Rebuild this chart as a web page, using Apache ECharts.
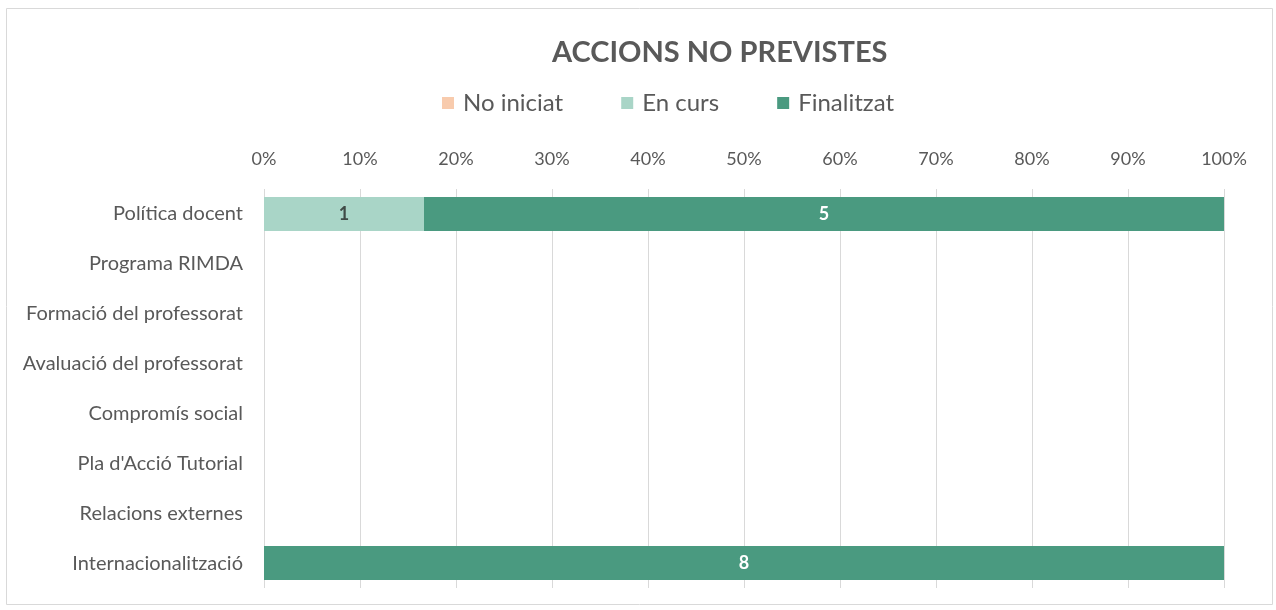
<!DOCTYPE html>
<html>
<head>
<meta charset="utf-8">
<script src="https://cdn.jsdelivr.net/npm/echarts@6/dist/echarts.min.js"></script>
<style>
html,body{margin:0;padding:0;background:#fff;}
#chart{width:1276px;height:610px;}
</style>
</head>
<body>
<div id="chart"></div>
<script>
const categories = ["Política docent","Programa RIMDA","Formació del professorat","Avaluació del professorat","Compromís social","Pla d'Acció Tutorial","Relacions externes","Internacionalització"];
const noIniciat = [0,0,0,0,0,0,0,0];
const enCurs = [1,0,0,0,0,0,0,0];
const finalitzat = [5,0,0,0,0,0,0,8];
const seriesNames = ["No iniciat","En curs","Finalitzat"];
const colors = ["#f8cbad","#a9d5c7","#4a9a80"];
const labelColors = ["#3f4a46","#3f4a46","#ffffff"];

const raw = [noIniciat, enCurs, finalitzat];
const totals = categories.map((c,i)=>raw.reduce((s,a)=>s+a[i],0));

const chart = echarts.init(document.getElementById('chart'));
const FONT = 'Lato';
chart.setOption({
  animation:false,
  textStyle:{fontFamily:FONT},
  graphic:[{type:'rect',shape:{x:6.5,y:8.5,width:1266,height:596},style:{fill:'none',stroke:'#d9d9d9',lineWidth:1},silent:true}],
  title:{text:'ACCIONS NO PREVISTES',left:547,top:33,textStyle:{fontFamily:FONT,fontSize:29,fontWeight:'bold',color:'#595959'}},
  legend:{top:86,left:437,itemWidth:12,itemHeight:12,itemGap:58,icon:'rect',
    textStyle:{fontFamily:FONT,fontSize:24,color:'#595959',padding:[0,0,0,4]},data:seriesNames},
  grid:{left:264,right:52,top:189,bottom:22},
  xAxis:{type:'value',position:'top',min:0,max:100,interval:10,
    axisLabel:{formatter:'{value}%',color:'#595959',fontSize:18,fontFamily:FONT,margin:21},
    axisLine:{show:false},axisTick:{show:false},
    splitLine:{lineStyle:{color:'#d9d9d9',width:1}}},
  yAxis:{type:'category',inverse:true,data:categories,
    axisLabel:{color:'#595959',fontSize:20,fontFamily:FONT,margin:21},
    axisLine:{show:false},axisTick:{show:false}},
  series: raw.map((arr,si)=>({
    name:seriesNames[si],type:'bar',stack:'total',barWidth:'68%',
    itemStyle:{color:colors[si]},
    label:{show:true,position:'inside',color:labelColors[si],fontSize:18,fontWeight:'bold',fontFamily:FONT,
      formatter:p=>{const v=arr[p.dataIndex];return v>0?String(v):'';}},
    data: arr.map((v,i)=> totals[i]>0 && v>0 ? v/totals[i]*100 : null)
  }))
});
</script>
</body>
</html>
